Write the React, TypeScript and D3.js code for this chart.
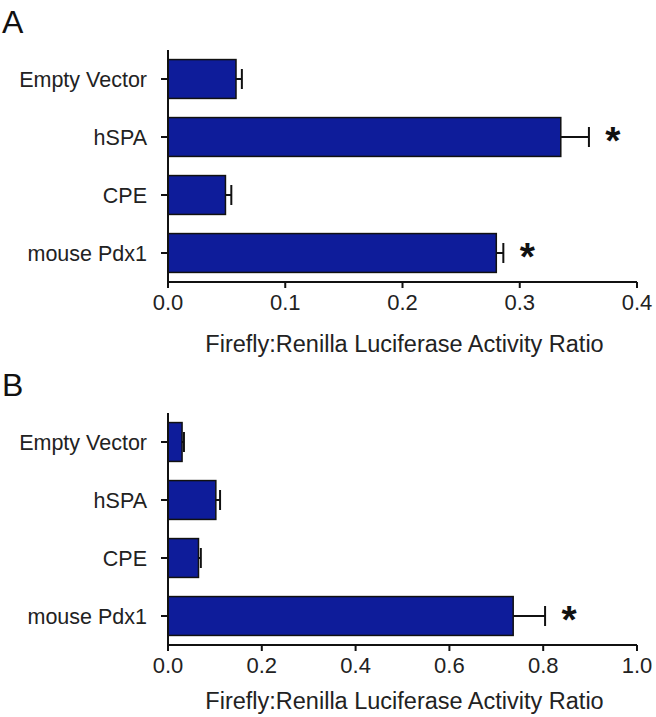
import React from "react";
import * as d3 from "d3";

const categories = ["Empty Vector", "hSPA", "CPE", "mouse Pdx1"];
const valuesA = [0.058, 0.335, 0.049, 0.28];
const errorsA = [0.005, 0.024, 0.005, 0.006];
const signifA = [false, true, false, true];
const ticksA = [0, 0.1, 0.2, 0.3, 0.4];

const valuesB = [0.03, 0.102, 0.065, 0.736];
const errorsB = [0.004, 0.009, 0.005, 0.068];
const signifB = [false, false, false, true];
const ticksB = [0, 0.2, 0.4, 0.6, 0.8, 1.0];

const axisTitle = "Firefly:Renilla Luciferase Activity Ratio";
const FONT = "'Liberation Sans', Arial, Helvetica, sans-serif";
const BAR = "#0e1c9a";

type PanelProps = {
  label: string;
  top: number;
  values: number[];
  errors: number[];
  signif: boolean[];
  ticks: number[];
  max: number;
  titleOffset: number;
};

function Panel({ label, top, values, errors, signif, ticks, max, titleOffset }: PanelProps) {
  const x0 = 168;
  const x1 = 637;
  const yTop = top;
  const yBottom = top + 232;
  const x = d3.scaleLinear().domain([0, max]).range([x0, x1]);
  const y = d3
    .scaleBand<string>()
    .domain(categories)
    .range([yTop, yBottom])
    .paddingInner(0.33)
    .paddingOuter(0.165);
  const bw = y.bandwidth();
  return (
    <g>
      <text x={2} y={top - 17} fontFamily={FONT} fontSize={32} fill="#111">
        {label}
      </text>
      {categories.map((c, i) => {
        const yc = (y(c) as number) + bw / 2;
        const xe = x(values[i] + errors[i]);
        return (
          <g key={c}>
            <rect
              x={x(0)}
              y={y(c) as number}
              width={x(values[i]) - x(0)}
              height={bw}
              fill={BAR}
              stroke="#111"
              strokeWidth={1.5}
            />
            <line x1={x(values[i])} x2={xe} y1={yc} y2={yc} stroke="#111" strokeWidth={2} />
            <line x1={xe} x2={xe} y1={yc - 10} y2={yc + 10} stroke="#111" strokeWidth={2} />
            {signif[i] && (
              <text
                x={xe + 24}
                y={yc + 17}
                fontFamily={FONT}
                fontSize={39}
                fontWeight="bold"
                fill="#111"
                textAnchor="middle"
              >
                *
              </text>
            )}
            <line x1={x0 - 7} x2={x0} y1={yc} y2={yc} stroke="#111" strokeWidth={2} />
            <text
              x={147}
              y={yc}
              dy="0.35em"
              textAnchor="end"
              fontFamily={FONT}
              fontSize={21.5}
              fill="#222"
            >
              {c}
            </text>
          </g>
        );
      })}
      <line x1={x0} x2={x0} y1={yTop} y2={yBottom} stroke="#111" strokeWidth={2} />
      <line x1={x0} x2={x1} y1={yBottom} y2={yBottom} stroke="#111" strokeWidth={2} />
      {ticks.map((t) => (
        <g key={t}>
          <line x1={x(t)} x2={x(t)} y1={yBottom} y2={yBottom + 6} stroke="#111" strokeWidth={2} />
          <text
            x={x(t)}
            y={yBottom + 28}
            textAnchor="middle"
            fontFamily={FONT}
            fontSize={22}
            fill="#222"
          >
            {t.toFixed(1)}
          </text>
        </g>
      ))}
      <text
        x={(x0 + x1) / 2 + 2}
        y={yBottom + titleOffset}
        textAnchor="middle"
        fontFamily={FONT}
        fontSize={23.5}
        fill="#222"
      >
        {axisTitle}
      </text>
    </g>
  );
}

export default function App() {
  return (
    <svg
      width={656}
      height={717}
      style={{ position: "absolute", left: 0, top: 0, background: "#fff", display: "block" }}
    >
      <rect width={656} height={717} fill="#fff" />
      <Panel label="A" top={50} values={valuesA} errors={errorsA} signif={signifA} ticks={ticksA} max={0.4} titleOffset={70} />
      <Panel label="B" top={413} values={valuesB} errors={errorsB} signif={signifB} ticks={ticksB} max={1.0} titleOffset={64} />
    </svg>
  );
}
